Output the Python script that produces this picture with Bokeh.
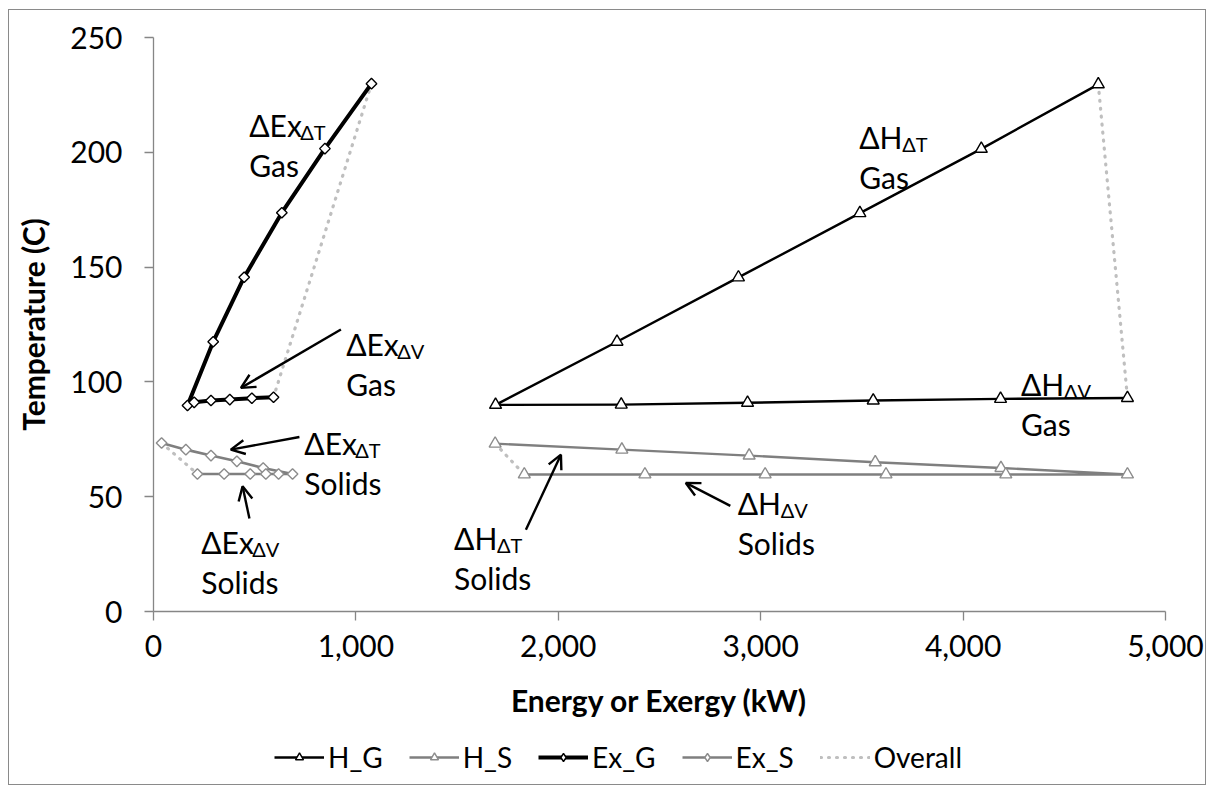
from bokeh.plotting import figure
from bokeh.layouts import column
from bokeh.models import (Range1d, FixedTicker, NumeralTickFormatter, Legend, LegendItem,
                          Arrow, OpenHead, ColumnDataSource)
from bokeh.core.properties import value
from bokeh.embed import file_html
from bokeh.resources import INLINE

# ---- data: (energy or exergy kW, temperature C) ----
# Gas enthalpy: temperature-change leg (descending) then phase-change leg
hg_dt_x = [4668, 4090, 3490, 2890, 2290, 1690]
hg_dt_y = [229.6, 201.5, 173.5, 145.5, 117.5, 90.0]
hg_dv_x = [2311, 2935, 3556, 4185, 4812]
hg_dv_y = [90.1, 90.9, 91.9, 92.6, 93.0]

# Solids enthalpy: temperature-change leg then phase-change leg
hs_dt_x = [1688, 2314, 2943, 3566, 4187, 4812]
hs_dt_y = [73.1, 70.5, 67.9, 65.0, 62.5, 59.7]
hs_dv_x = [4211, 3619, 3022, 2428, 1832]
hs_dv_y = [59.7, 59.7, 59.7, 59.7, 59.7]

# Gas exergy
exg_dt_x = [1077, 847, 634, 448, 295, 168]
exg_dt_y = [229.9, 201.6, 173.7, 145.6, 117.5, 89.7]
exg_dv_x = [201, 284, 377, 486, 593]
exg_dv_y = [91.1, 91.9, 92.3, 92.9, 93.3]

# Solids exergy
exs_dt_x = [40, 160, 284, 412, 542, 687]
exs_dt_y = [73.4, 70.5, 67.9, 65.4, 62.5, 59.9]
exs_dv_x = [618, 555, 478, 349, 217]
exs_dv_y = [59.9, 59.9, 59.9, 59.9, 59.9]

# Overall connectors (NaN separates the pieces)
nan = float("nan")
overall_x = [40, 217, nan, 1077, 593, nan, 1688, 1832, nan, 4668, 4812]
overall_y = [73.4, 59.9, nan, 229.9, 93.3, nan, 73.1, 59.7, nan, 229.6, 93.0]

x_ticks = [0, 1000, 2000, 3000, 4000, 5000]
y_ticks = [0, 50, 100, 150, 200, 250]
series_names = ["H_G", "H_S", "Ex_G", "Ex_S", "Overall"]

FONT = "Lato"
BLACK = "#000000"
GREY = "#7f7f7f"
MARK_GREY = "#8c8c8c"
LIGHT = "#bfbfbf"
DIAMOND = 0.785398  # square marker turned 45 degrees

p = figure(frame_width=1012, frame_height=574, x_range=Range1d(0, 5000), y_range=Range1d(0, 250),
           output_backend="svg", toolbar_location=None,
           min_border_left=144, min_border_right=40, min_border_top=27, min_border_bottom=120)
p.outline_line_color = None
p.grid.visible = False
p.background_fill_color = "white"
p.border_fill_color = "white"

for ax in (p.xaxis[0], p.yaxis[0]):
    ax.axis_line_color = "#868686"
    ax.axis_line_width = 1.3
    ax.major_tick_line_color = "#868686"
    ax.major_tick_line_width = 1.3
    ax.major_tick_in = 0
    ax.major_tick_out = 9
    ax.minor_tick_line_color = None
    ax.major_label_text_font = FONT
    ax.major_label_text_font_size = "30px"
    ax.major_label_text_color = BLACK
    ax.axis_label_text_font = FONT
    ax.axis_label_text_font_size = "30px"
    ax.axis_label_text_font_style = "bold"
    ax.axis_label_text_color = BLACK

p.xaxis.ticker = FixedTicker(ticks=x_ticks)
p.yaxis.ticker = FixedTicker(ticks=y_ticks)
p.xaxis.formatter = NumeralTickFormatter(format="0,0")
p.xaxis.major_label_standoff = 14
p.yaxis.major_label_standoff = 22
p.xaxis.axis_label = "Energy or Exergy (kW)"
p.yaxis.axis_label = "Temperature (C)"
p.xaxis.axis_label_standoff = 22
p.yaxis.axis_label_standoff = 16

# line + marker styles for the chart
styles = {
    "H_G": dict(color=BLACK, width=2.4, marker="triangle", size=12, mcolor=BLACK, angle=0.0),
    "H_S": dict(color=GREY, width=2.4, marker="triangle", size=12, mcolor=MARK_GREY, angle=0.0),
    "Ex_G": dict(color=BLACK, width=4.0, marker="square", size=7.5, mcolor=BLACK, angle=DIAMOND),
    "Ex_S": dict(color=GREY, width=2.6, marker="square", size=7.5, mcolor=MARK_GREY, angle=DIAMOND),
}
# legend swatches: same lines, smaller markers, diamond glyph drawn directly
swatch = {
    "H_G": dict(styles["H_G"], size=10),
    "H_S": dict(styles["H_S"], size=10),
    "Ex_G": dict(styles["Ex_G"], marker="diamond", size=12, angle=0.0),
    "Ex_S": dict(styles["Ex_S"], marker="diamond", size=12, angle=0.0),
}


def series(fig, xs, ys, st):
    src = ColumnDataSource(dict(x=xs, y=ys))
    ln = fig.line("x", "y", source=src, line_color=st["color"], line_width=st["width"],
                  line_join="round")
    mk = fig.scatter("x", "y", source=src, marker=st["marker"], size=st["size"], angle=st["angle"],
                     fill_color="white", line_color=st["mcolor"], line_width=1.4)
    return [ln, mk]


def overall(fig, xs, ys):
    return fig.line(xs, ys, line_color=LIGHT, line_width=3.2, line_dash="1 7", line_cap="round")


overall(p, overall_x, overall_y)
series(p, hg_dt_x + hg_dv_x, hg_dt_y + hg_dv_y, styles["H_G"])
series(p, hs_dt_x + hs_dv_x, hs_dt_y + hs_dv_y, styles["H_S"])
series(p, exg_dt_x + exg_dv_x, exg_dt_y + exg_dv_y, styles["Ex_G"])
series(p, exs_dt_x + exs_dv_x, exs_dt_y + exs_dv_y, styles["Ex_S"])

# ---- annotations: (main text, subscript, second line, x, baseline y) ----
notes = [
    ("ΔEx", "ΔT", "Gas", 473, 212.0),
    ("ΔEx", "ΔV", "Gas", 952, 116.7),
    ("ΔEx", "ΔT", "Solids", 745, 73.2),
    ("ΔEx", "ΔV", "Solids", 236, 30.4),
    ("ΔH", "ΔT", "Gas", 3487, 206.5),
    ("ΔH", "ΔV", "Gas", 4286, 99.2),
    ("ΔH", "ΔT", "Solids", 1485, 32.1),
    ("ΔH", "ΔV", "Solids", 2886, 47.4),
]
widths = {"ΔEx": 50, "ΔH": 42}
for main, sub, line2, x, y in notes:
    p.text([x], [y], text=[main], text_font=value(FONT), text_font_size="30px",
           text_baseline="alphabetic", text_align="left", text_color=BLACK)
    p.text([x], [y], text=[sub], text_font=value(FONT), text_font_size="20px",
           text_baseline="alphabetic", text_align="left", text_color=BLACK,
           x_offset=widths[main] + 1, y_offset=7)
    p.text([x], [y], text=[line2], text_font=value(FONT), text_font_size="30px",
           text_baseline="alphabetic", text_align="left", text_color=BLACK,
           y_offset=40)

# ---- arrows from labels to curves: (x0, y0, x1, y1) ----
arrows = [
    (926, 122.8, 432, 97.4),
    (721, 76.0, 382, 70.5),
    (474, 40.5, 440, 54.5),
    (1840, 35.6, 2013, 68.3),
    (2850, 46.0, 2630, 56.0),
]
for x0, y0, x1, y1 in arrows:
    p.add_layout(Arrow(end=OpenHead(size=14, line_width=2.4, line_color=BLACK),
                       x_start=x0, y_start=y0, x_end=x1, y_end=y1,
                       line_width=2.4, line_color=BLACK))

# ---- legend strip under the chart ----
# the sample renderers sit outside the strip's visible range; only their legend swatches show
lg = figure(width=1196, height=53, x_range=Range1d(0, 1), y_range=Range1d(0, 1),
            output_backend="svg", toolbar_location=None, x_axis_type=None, y_axis_type=None,
            min_border=0)
lg.outline_line_color = None
lg.background_fill_color = "white"
lg.border_fill_color = "white"

hidden_x, hidden_y = [-5.0], [-5.0]
items = []
for name in series_names[:4]:
    items.append(LegendItem(label=name, renderers=series(lg, hidden_x, hidden_y, swatch[name])))
items.append(LegendItem(label=series_names[4], renderers=[overall(lg, hidden_x, hidden_y)]))

legend = Legend(items=items, orientation="horizontal", location=(121, 10))
legend.label_text_font = FONT
legend.label_text_font_size = "28px"
legend.label_text_color = BLACK
legend.glyph_width = 50
legend.spacing = 26
legend.label_standoff = 4
legend.border_line_color = None
legend.background_fill_alpha = 0
legend.margin = 0
legend.padding = 4
lg.add_layout(legend, "center")

page = column(p, lg, spacing=0,
              styles={"margin-left": "8px", "margin-top": "9px", "border": "1px solid #8a8a8a"})

open("out.html", "w").write(file_html(page, INLINE))
